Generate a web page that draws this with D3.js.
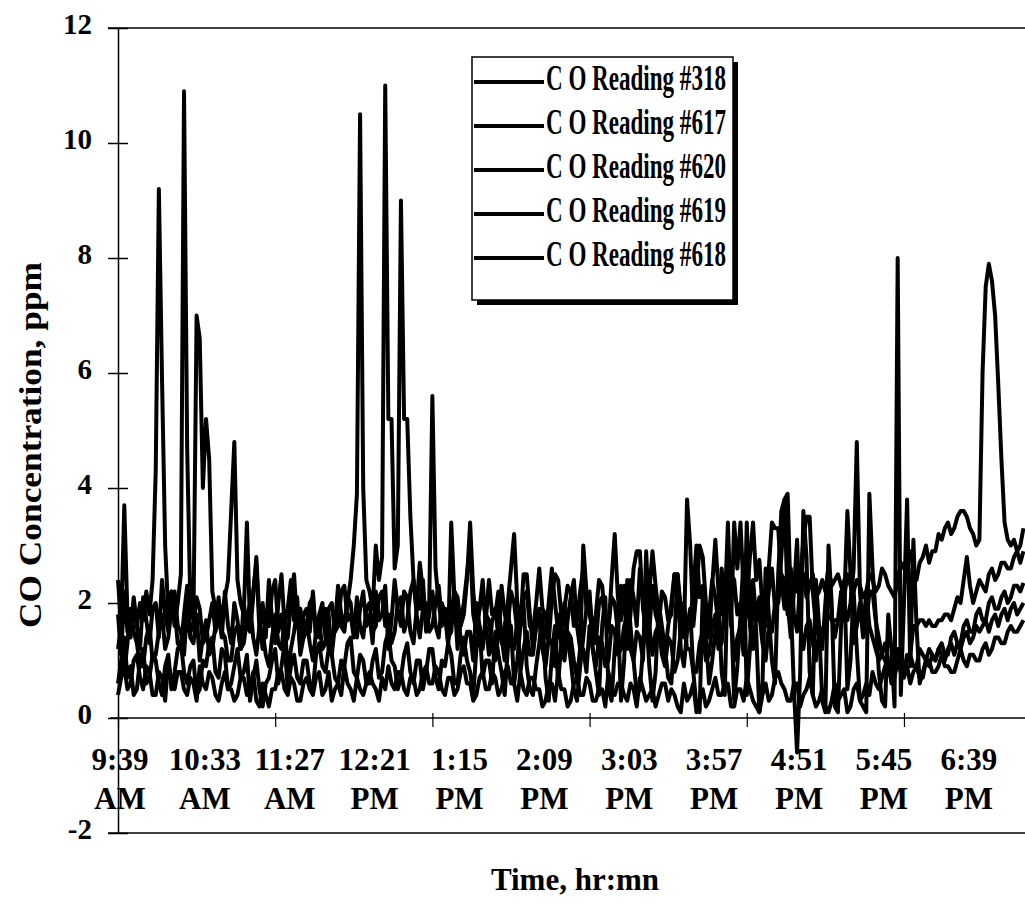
<!DOCTYPE html>
<html lang="en">
<head>
<meta charset="UTF-8">
<title>CO Concentration</title>
<script src="https://d3js.org/d3.v7.min.js"></script>
<style>
  body { margin: 0; background: #fff; }
  text { font-family: "Liberation Serif", "Times New Roman", serif; font-weight: bold; fill: #000; }
</style>
</head>
<body>
<svg id="chart" width="1025" height="909"></svg>
<script>
// readings every 2 minutes starting 9:39 AM
const stepMinutes = 2;
const seriesNames = ["C O Reading #318", "C O Reading #617", "C O Reading #620", "C O Reading #619", "C O Reading #618"];
const xTickLabelsTop = ["9:39", "10:33", "11:27", "12:21", "1:15", "2:09", "3:03", "3:57", "4:51", "5:45", "6:39"];
const xTickLabelsBottom = ["AM", "AM", "AM", "PM", "PM", "PM", "PM", "PM", "PM", "PM", "PM"];
const labelEvery = 54;   // minutes between labels
const tickEvery = 100;   // minutes between tick marks
const yTicks = [-2, 0, 2, 4, 6, 8, 10, 12];

const reading318 = [
  1.8, 1.1, 2.2, 1.5, 1.4, 2.0, 1.6, 1.2, 2.1, 1.7, 1.3, 1.9, 2.0, 1.4, 2.4, 1.8, 1.5, 2.2, 1.9, 1.3,
  1.2, 1.8, 2.3, 1.5, 1.6, 2.1, 1.9, 1.3, 1.4, 1.7, 2.0, 1.5, 1.8, 1.4, 2.2, 1.6, 1.3, 2.0, 1.7, 1.2,
  2.0, 1.6, 1.5, 2.1, 2.8, 1.7, 1.2, 1.8, 1.6, 2.2, 2.4, 1.5, 1.8, 1.3, 1.4, 2.0, 2.5, 1.6, 1.9, 1.4,
  1.5, 2.0, 2.1, 1.4, 1.7, 1.2, 1.3, 1.9, 2.0, 1.5, 1.6, 2.2, 2.3, 1.7, 1.8, 1.4, 2.1, 1.6, 1.4, 1.9,
  2.0, 1.5, 1.6, 2.1, 2.2, 1.6, 1.8, 1.3, 1.5, 2.0, 2.1, 1.5, 1.7, 2.2, 2.4, 1.8, 1.4, 1.9, 2.0, 1.5,
  1.6, 2.0, 2.3, 1.7, 1.9, 1.4, 1.5, 2.2, 2.1, 1.6, 1.8, 2.4, 3.4, 2.2, 1.6, 1.9, 2.2, 1.7, 2.4, 1.8,
  1.9, 1.4, 2.3, 1.8, 1.6, 2.2, 2.0, 1.5, 1.7, 2.1, 2.2, 1.6, 1.5, 2.0, 2.6, 1.9, 1.8, 1.3, 2.1, 2.5,
  2.4, 1.8, 1.9, 2.3, 2.2, 1.6, 1.7, 2.2, 2.6, 1.9, 2.1, 1.5, 1.8, 2.4, 2.3, 1.7, 1.6, 2.1, 2.0, 1.5,
  2.3, 1.9, 1.8, 2.4, 2.1, 1.6, 2.6, 2.0, 1.9, 1.5, 2.3, 1.8, 1.6, 2.2, 2.1, 1.7, 1.8, 2.5, 2.4, 1.9,
  2.0, 1.6, 1.7, 2.2, 3.0, 2.1, 2.3, 1.7, 1.8, 2.4, 2.1, 1.6, 2.6, 2.0, 1.9, 2.5, 2.4, 1.8, 2.0, 1.6,
  1.8, 2.3, 2.4, 1.7, 2.1, 1.6, 1.7, 2.2, 2.6, 1.9, 2.0, 2.5, 2.4, 1.8, 1.8, 2.3, 2.2, 2.6, 2.5, 2.1,
  2.3, 2.5, 2.1, 2.2, 2.4, 2.2, 2.6, 2.3, 2.4, 2.5, 2.3, 2.1, 2.5, 2.3, 2.2, 2.4, 2.3, 2.1, 2.2, 2.5,
  2.4, 2.2, 2.3, 2.6, 2.5, 2.3, 2.2, 2.1, 2.4, 2.7, 2.6, 2.8, 2.9, 2.6, 2.4, 2.7, 2.8, 3.0, 2.7, 2.9,
  2.9, 3.2, 3.1, 3.3, 3.4, 3.2, 3.3, 3.5, 3.6, 3.6, 3.5, 3.3, 3.2, 3.0, 3.1, 6.0, 7.5, 7.9, 7.6, 7.0,
  5.8, 4.5, 3.4, 3.1, 3.0, 3.1, 2.9, 3.0, 3.3
];
const reading617 = [
  2.4, 1.6, 3.7, 1.8, 1.5, 2.1, 1.6, 2.0, 1.7, 2.2, 1.8, 2.4, 4.3, 9.2, 5.9, 3.0, 1.8, 2.2, 1.6, 2.0,
  2.5, 10.9, 4.7, 2.0, 1.7, 7.0, 6.6, 4.0, 5.2, 4.5, 2.2, 1.9, 2.0, 1.8, 2.1, 2.4, 3.6, 4.8, 2.4, 2.0,
  1.8, 3.4, 1.6, 2.2, 2.7, 1.5, 2.0, 1.4, 2.4, 1.7, 1.3, 2.0, 2.5, 1.6, 1.9, 2.4, 1.7, 2.1, 1.2, 1.8,
  1.9, 1.5, 2.2, 1.4, 1.8, 2.0, 1.4, 1.8, 1.1, 1.6, 2.3, 1.8, 1.6, 2.1, 2.0, 1.5, 1.4, 1.9, 2.2, 1.6,
  1.8, 1.3, 2.2, 1.7, 1.8, 2.3, 1.2, 1.7, 2.4, 1.9, 1.6, 2.2, 2.1, 1.5, 1.3, 1.9, 1.9, 2.4, 1.5, 1.8,
  2.2, 1.6, 1.4, 2.0, 1.8, 1.3, 3.4, 2.1, 1.2, 1.7, 2.0, 2.5, 3.0, 1.8, 1.5, 1.9, 2.4, 1.6, 1.1, 1.7,
  1.8, 2.2, 1.3, 1.6, 2.0, 2.6, 3.2, 2.0, 1.6, 2.5, 2.5, 1.8, 1.2, 1.6, 1.9, 1.4, 1.4, 2.0, 2.6, 2.0,
  1.5, 1.8, 1.1, 1.7, 2.1, 2.4, 1.6, 1.2, 3.0, 2.2, 1.8, 1.5, 1.3, 2.0, 2.1, 1.7, 1.5, 2.4, 3.2, 2.1,
  1.7, 2.3, 1.2, 1.8, 2.6, 2.9, 2.9, 1.9, 1.5, 2.2, 2.9, 2.3, 1.8, 1.4, 1.1, 1.6, 2.0, 2.5, 2.5, 1.9,
  1.4, 3.8, 3.0, 1.6, 2.2, 3.0, 2.8, 2.0, 1.4, 2.3, 3.1, 2.2, 1.8, 2.4, 2.5, 1.6, 3.4, 2.6, 3.4, 2.2,
  2.0, 2.8, 3.4, 2.4, 2.75, 1.9, 1.6, 2.6, 3.4, 3.3, 3.3, 2.4, 1.9, 2.2, 2.6, 1.8, 1.5, 2.4, 3.1, 3.5,
  3.5, 2.2, 1.6, 1.4, 1.2, 2.0, 2.7, 1.8, 1.4, 1.7, 2.2, 2.0, 3.6, 2.5, 1.3, 1.6, 2.0, 1.4, 1.6, 2.2,
  2.2, 1.7, 1.4, 1.1, 1.0, 0.8, 0.7, 1.0, 1.2, 0.9, 0.8, 1.0, 1.1, 0.9, 0.9, 1.2, 1.1, 1.0, 1.2, 1.1,
  1.0, 1.2, 1.3, 1.1, 1.1, 1.4, 1.5, 1.3, 1.3, 1.6, 1.7, 1.5, 1.5, 1.8, 1.9, 1.7, 1.7, 2.0, 2.1, 1.9,
  1.9, 2.1, 2.2, 2.0, 2.1, 2.3, 2.3, 2.2, 2.35
];
const reading620 = [
  1.2, 1.6, 0.8, 1.3, 1.9, 1.5, 1.3, 0.9, 0.9, 1.4, 1.6, 1.0, 1.1, 1.5, 1.8, 1.2, 1.4, 1.9, 2.2, 1.6,
  1.5, 1.1, 1.9, 1.4, 1.3, 1.8, 1.0, 1.4, 1.7, 1.1, 1.2, 1.6, 2.1, 1.5, 1.4, 1.0, 1.0, 1.5, 1.6, 1.2,
  1.3, 1.7, 2.0, 1.4, 1.1, 1.6, 1.5, 1.1, 0.9, 1.4, 1.8, 1.3, 1.2, 1.7, 0.8, 1.2, 1.5, 1.9, 1.1, 1.4,
  1.7, 1.3, 1.0, 1.5, 1.4, 1.8, 1.9, 1.2, 1.3, 1.7, 2.0, 1.6, 1.5, 2.0, 2.4, 3.0, 3.9, 10.5, 4.0, 2.4,
  2.2, 1.9, 3.0, 2.4, 2.8, 11.0, 5.2, 5.2, 2.6, 3.0, 9.0, 5.2, 5.2, 3.5, 2.4, 1.9, 2.7, 2.2, 1.7, 2.0,
  5.6, 2.6, 2.0, 1.6, 1.9, 1.3, 1.8, 2.2, 1.8, 1.4, 1.1, 1.5, 1.5, 1.0, 2.0, 1.6, 1.2, 1.8, 1.7, 1.2,
  1.0, 1.5, 1.4, 1.0, 1.9, 1.4, 1.2, 1.7, 0.8, 1.2, 1.5, 1.1, 1.1, 1.6, 1.7, 1.2, 0.9, 1.4, 1.3, 0.9,
  1.8, 1.3, 1.0, 1.5, 1.4, 1.0, 0.7, 1.2, 1.2, 0.8, 1.6, 1.2, 0.9, 1.4, 1.3, 0.9, 1.0, 1.6, 1.5, 1.1,
  1.2, 1.6, 1.8, 1.2, 1.0, 1.5, 1.4, 1.0, 2.9, 1.6, 1.1, 1.5, 1.6, 1.1, 0.9, 1.4, 1.3, 0.8, 1.0, 1.5,
  1.7, 1.2, 1.2, 0.8, 0.8, 1.3, 1.5, 1.0, 1.1, 1.6, 1.8, 1.2, 1.3, 1.9, 3.4, 1.8, 1.0, 1.4, 1.6, 1.1,
  3.4, 1.6, 1.2, 1.8, 1.8, 1.3, 1.0, 1.6, 1.5, 2.0, 2.2, 2.8, 3.8, 2.0, 1.4, 2.2, 3.1, 1.6, 1.2, 1.6,
  1.7, 1.3, 1.0, 1.5, 1.5, 1.7, 1.8, 1.7, 1.7, 1.7, 1.7, 1.7, 1.7, 2.0, 2.6, 4.8, 2.2, 1.5, 2.2, 1.6,
  1.4, 1.2, 1.0, 1.1, 1.3, 1.0, 0.9, 1.2, 1.2, 0.8, 0.8, 1.1, 1.1, 1.6, 1.6, 1.7, 1.7, 1.6, 1.7, 1.6,
  1.6, 1.7, 1.7, 1.8, 1.8, 1.7, 1.9, 2.1, 2.0, 2.4, 2.8, 2.3, 2.0, 2.2, 2.4, 2.3, 2.2, 2.5, 2.6, 2.4,
  2.5, 2.7, 2.7, 2.6, 2.6, 2.8, 2.9, 2.7, 2.9
];
const reading619 = [
  0.6, 1.0, 1.4, 0.7, 0.9, 0.4, 0.5, 1.0, 1.2, 0.6, 0.7, 1.1, 1.0, 0.6, 0.4, 0.9, 1.1, 0.5, 0.8, 1.2,
  1.3, 0.8, 0.6, 0.9, 1.0, 0.4, 0.5, 1.0, 0.9, 1.3, 1.4, 0.8, 0.7, 1.2, 1.1, 0.5, 0.6, 0.9, 1.2, 0.7,
  0.8, 1.1, 0.3, 0.7, 1.0, 0.5, 0.2, 0.6, 0.7, 1.0, 1.2, 0.6, 0.9, 1.3, 0.5, 0.9, 1.1, 0.7, 0.6, 1.0,
  1.0, 0.6, 0.5, 1.1, 1.3, 0.9, 0.8, 1.2, 1.1, 0.7, 0.6, 1.0, 0.9, 1.3, 1.4, 0.8, 0.7, 1.1, 1.0, 0.6,
  0.6, 1.0, 1.2, 0.7, 0.8, 1.3, 1.5, 1.0, 0.9, 0.5, 0.7, 1.1, 1.3, 0.8, 0.6, 1.0, 1.0, 0.5, 0.8, 1.2,
  1.2, 0.7, 0.5, 1.0, 0.9, 1.3, 1.1, 0.6, 0.6, 1.1, 1.4, 1.0, 0.8, 0.4, 1.2, 1.6, 0.7, 1.0, 1.0, 0.6,
  1.5, 1.1, 0.8, 0.4, 1.2, 1.6, 0.6, 1.0, 1.6, 2.0, 0.9, 0.5, 0.4, 0.9, 1.3, 1.8, 0.7, 0.3, 1.1, 1.6,
  0.6, 1.3, 2.0, 1.4, 1.0, 0.5, 0.3, 0.9, 1.4, 1.9, 2.2, 1.2, 0.8, 0.4, 1.6, 2.1, 0.5, 0.3, 1.2, 1.8,
  0.3, 1.0, 2.4, 1.6, 1.0, 0.4, 0.5, 1.2, 1.8, 0.9, 0.3, 0.8, 2.0, 1.6, 1.2, 0.7, 0.6, 1.4, 2.5, 1.2,
  0.9, 1.5, 1.9, 0.8, 0.2, 0.1, 2.2, 1.4, 0.6, 1.0, 1.5, 2.1, 0.8, 0.4, 2.6, 1.9, 0.3, 0.9, 1.8, 2.8,
  0.4, 1.2, 2.3, 1.5, 0.1, 0.6, 2.6, 1.8, 1.0, 0.6, 2.5, 3.6, 3.8, 3.9, 2.0, 0.5, -0.6, 0.8, 3.6, 2.8,
  0.8, 0.4, 2.4, 1.6, 0.3, 0.1, 3.0, 2.0, 0.2, 0.1, 1.6, 2.4, 0.5, 1.0, 2.2, 1.2, 0.3, 0.2, 0.1, 3.9,
  2.6, 1.8, 0.8, 0.3, 0.2, 1.8, 1.2, 0.2, 8.0, 0.4, 2.0, 3.8, 0.9, 3.1, 1.6, 0.6, 0.8, 1.0, 0.9, 1.1,
  1.0, 1.2, 1.1, 1.0, 1.2, 1.3, 1.1, 1.3, 1.2, 1.4, 1.5, 1.3, 1.4, 1.6, 1.5, 1.6, 1.7, 1.5, 1.7, 1.8,
  1.6, 1.8, 1.9, 1.7, 1.9, 2.0, 1.8, 1.9, 2.0
];
const reading618 = [
  0.4, 0.7, 0.9, 0.5, 0.6, 1.0, 1.1, 0.7, 0.5, 0.9, 0.8, 0.4, 0.4, 0.8, 0.7, 0.3, 1.0, 0.6, 0.5, 0.8,
  0.8, 0.5, 0.4, 0.7, 0.6, 0.3, 0.9, 0.6, 0.5, 0.8, 0.7, 0.4, 0.3, 0.6, 0.8, 0.5, 0.5, 0.3, 0.4, 0.7,
  0.7, 0.4, 0.5, 0.8, 0.3, 0.2, 0.6, 0.4, 0.2, 0.5, 0.5, 0.8, 0.8, 0.5, 0.4, 0.7, 0.6, 0.3, 0.3, 0.6,
  0.7, 0.5, 0.4, 0.7, 0.8, 0.4, 0.5, 0.8, 0.3, 0.5, 0.6, 0.4, 0.9, 0.6, 0.5, 0.3, 0.7, 0.5, 0.4, 0.6,
  0.8, 0.6, 0.5, 0.3, 0.7, 0.5, 0.9, 0.6, 0.5, 0.8, 0.8, 0.5, 0.4, 0.7, 0.7, 0.4, 0.5, 0.8, 0.9, 0.6,
  0.6, 0.9, 0.8, 0.5, 0.4, 0.7, 0.7, 0.4, 0.5, 0.8, 0.9, 0.6, 0.6, 0.3, 0.4, 0.7, 0.8, 0.5, 0.5, 0.8,
  0.7, 0.4, 0.5, 0.8, 0.9, 0.6, 0.6, 0.3, 0.8, 0.5, 0.4, 0.7, 0.7, 0.5, 0.5, 0.2, 0.3, 0.6, 0.6, 0.3,
  0.8, 0.5, 0.5, 0.2, 0.3, 0.6, 0.7, 0.4, 0.4, 0.7, 0.6, 0.3, 0.3, 0.5, 0.5, 0.2, 0.8, 0.5, 0.4, 0.6,
  0.6, 0.4, 0.3, 0.6, 0.5, 0.2, 0.7, 0.5, 0.3, 0.4, 0.5, 0.2, 0.4, 0.6, 0.6, 0.3, 0.5, 0.4, 0.2, 0.1,
  0.6, 0.3, 0.4, 0.6, 0.1, 0.3, 0.5, 0.2, 0.3, 0.5, 0.7, 0.4, 0.4, 0.6, 0.6, 0.2, 0.2, 0.5, 0.5, 0.3,
  0.7, 0.5, 0.3, 0.2, 0.1, 0.4, 0.6, 0.3, 0.4, 0.7, 0.8, 0.6, 0.5, 0.3, 0.3, 0.6, 0.6, 0.2, 0.4, 0.5,
  0.7, 0.4, 0.2, 0.3, 0.5, 0.2, 0.1, 0.3, 0.6, 0.3, 0.4, 0.5, 0.1, 0.2, 0.5, 0.6, 0.3, 0.4, 0.6, 0.4,
  0.8, 0.6, 0.5, 0.7, 0.9, 1.0, 0.6, 0.7, 1.0, 0.8, 0.7, 0.9, 0.6, 0.8, 0.9, 0.7, 0.7, 1.0, 1.0, 0.8,
  0.8, 0.9, 1.1, 0.9, 0.9, 0.8, 0.8, 1.0, 1.2, 1.0, 0.9, 1.1, 1.1, 1.0, 1.0, 1.2, 1.3, 1.1, 1.2, 1.4,
  1.4, 1.3, 1.3, 1.5, 1.6, 1.5, 1.5, 1.6, 1.7
];
const allReadings = [reading318, reading617, reading620, reading619, reading618];

const svg = d3.select("#chart");
const plot = {left: 118, right: 1025, top: 28, bottom: 833};

const x = d3.scaleLinear().domain([0, 577]).range([plot.left, plot.right]);
const y = d3.scaleLinear().domain([-2, 12]).range([plot.bottom, plot.top]);

// frame lines at top and bottom of plot area
svg.selectAll(".frame")
  .data([12, -2])
  .enter().append("line")
  .attr("x1", plot.left - 10).attr("x2", plot.right)
  .attr("y1", d => y(d)).attr("y2", d => y(d))
  .attr("stroke", "#000").attr("stroke-width", 1.5);

// y axis
const yAxis = svg.append("g")
  .attr("transform", `translate(${plot.left},0)`)
  .call(d3.axisLeft(y).tickValues(yTicks).tickSize(10).tickSizeOuter(0).tickPadding(16)
    .tickFormat(d => String(d)));
yAxis.select(".domain").attr("stroke-width", 1.5);
yAxis.selectAll(".tick line").attr("x1", 10).attr("stroke-width", 1.5);
yAxis.selectAll(".tick text")
  .attr("dy", 5)
  .style("font-size", "29px")
  .style("font-family", "'Liberation Serif', 'Times New Roman', serif")
  .style("font-weight", "bold");

// x axis crossing at 0
const xAxis = svg.append("g")
  .attr("transform", `translate(0,${y(0)})`)
  .call(d3.axisBottom(x).tickValues(d3.range(0, 577, tickEvery)).tickSize(9).tickSizeOuter(0).tickFormat(""));
xAxis.select(".domain").remove();
xAxis.selectAll(".tick line").attr("y1", -5).attr("stroke-width", 1.2);
xAxis.append("line")
  .attr("x1", plot.left - 8).attr("x2", plot.right)
  .attr("stroke", "#000").attr("stroke-width", 1.5);

const labels = svg.append("g");
labels.selectAll(".lab1")
  .data(xTickLabelsTop)
  .enter().append("text")
  .attr("x", (d, i) => x(i * labelEvery) + 2)
  .attr("y", 770)
  .attr("text-anchor", "middle")
  .style("font-size", "31px")
  .text(d => d);
labels.selectAll(".lab2")
  .data(xTickLabelsBottom)
  .enter().append("text")
  .attr("x", (d, i) => x(i * labelEvery) + 2)
  .attr("y", 809)
  .attr("text-anchor", "middle")
  .style("font-size", "31px")
  .text(d => d);

// axis titles
svg.append("text")
  .attr("transform", `translate(41,445) rotate(-90)`)
  .attr("text-anchor", "middle")
  .attr("textLength", 366)
  .attr("lengthAdjust", "spacingAndGlyphs")
  .style("font-size", "31px")
  .text("CO Concentration, ppm");

svg.append("text")
  .attr("x", 575)
  .attr("y", 890)
  .attr("text-anchor", "middle")
  .style("font-size", "31px")
  .text("Time, hr:mn");

// series lines
const line = d3.line()
  .x((d, i) => x(i * stepMinutes))
  .y(d => y(d));

svg.append("g").selectAll("path")
  .data(allReadings)
  .enter().append("path")
  .attr("d", d => line(d))
  .attr("fill", "none")
  .attr("stroke", "#000")
  .attr("stroke-width", 4)
  .attr("stroke-linejoin", "round");

// legend
const legend = {x: 472, y: 57, w: 261, h: 243, rowGap: 44, firstRow: 82};
const lg = svg.append("g");
lg.append("rect")
  .attr("x", legend.x + 5).attr("y", legend.y + 5)
  .attr("width", legend.w).attr("height", legend.h)
  .attr("fill", "#000");
lg.append("rect")
  .attr("x", legend.x).attr("y", legend.y)
  .attr("width", legend.w).attr("height", legend.h)
  .attr("fill", "#fff").attr("stroke", "#000").attr("stroke-width", 1.5);

const rows = lg.selectAll(".row")
  .data(seriesNames)
  .enter().append("g")
  .attr("transform", (d, i) => `translate(${legend.x},${legend.firstRow + i * legend.rowGap})`);
rows.append("line")
  .attr("x1", 2).attr("x2", 72)
  .attr("stroke", "#000").attr("stroke-width", 4);
rows.append("text")
  .attr("x", 74)
  .attr("y", 8)
  .attr("textLength", 180)
  .attr("lengthAdjust", "spacingAndGlyphs")
  .attr("transform", "translate(0,8) scale(1,1.15) translate(0,-8)")
  .style("font-size", "31px")
  .text(d => d);
</script>
</body>
</html>
